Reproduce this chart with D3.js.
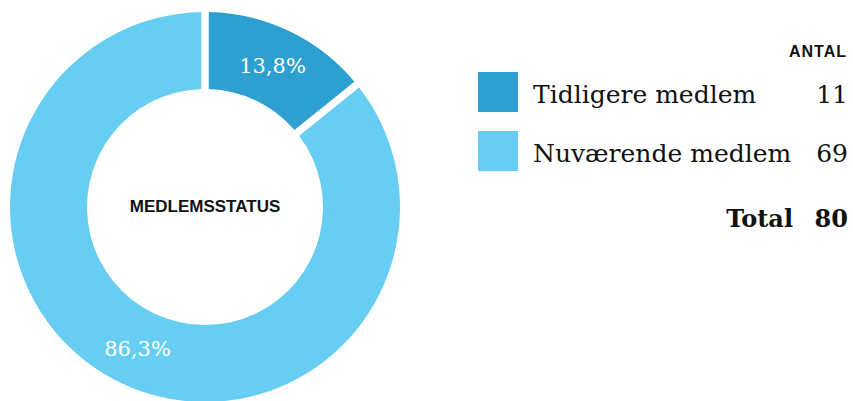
<!DOCTYPE html>
<html>
<head>
<meta charset="utf-8">
<script src="https://cdn.jsdelivr.net/npm/d3@7"></script>
<style>
  body { margin: 0; background: #fff; }
  svg { display: block; }
  .serif { font-family: "DejaVu Serif", serif; }
  .sans { font-family: "Liberation Sans", Arial, sans-serif; font-weight: bold; }
</style>
</head>
<body>
<div id="chart"></div>
<script>
// data
const categories = ["Tidligere medlem", "Nuværende medlem"];
const counts = [11, 69];
const percentLabels = ["13,8%", "86,3%"];
const colors = ["#2e9fd1", "#68cdf3"];
const centerTitle = "MEDLEMSSTATUS";
const columnTitle = "ANTAL";
const totalLabel = "Total";

const width = 853, height = 401;
const cx = 205, cy = 207, outerR = 195, innerR = 118;

const svg = d3.select("#chart").append("svg").attr("width", width).attr("height", height);
const g = svg.append("g").attr("transform", `translate(${cx},${cy})`);

const pie = d3.pie().sort(null).value(d => d)
    .padAngle(7.5 / outerR);
const arc = d3.arc().innerRadius(innerR).outerRadius(outerR).padRadius(outerR);
const labelArc = d3.arc().innerRadius((innerR + outerR) / 2).outerRadius((innerR + outerR) / 2);

const arcs = pie(counts);

g.selectAll("path.slice").data(arcs).enter().append("path")
    .attr("class", "slice")
    .attr("d", arc)
    .attr("fill", (d, i) => colors[i]);

g.selectAll("text.pct").data(arcs).enter().append("text")
    .attr("class", "pct serif")
    .attr("transform", d => `translate(${labelArc.centroid(d)})`)
    .attr("text-anchor", "middle").attr("dy", "0.35em")
    .style("font-size", "21px").style("fill", "#fff")
    .text((d, i) => percentLabels[i]);

g.append("text").attr("class", "sans")
    .attr("text-anchor", "middle").attr("y", 5)
    .style("font-size", "17px").style("fill", "#111")
    .text(centerTitle);

// legend table
const legend = svg.append("g");
const rightX = 848;
const rowY = d3.scalePoint().domain(categories).range([92, 151]);

legend.append("text").attr("class", "sans")
    .attr("x", rightX - 1).attr("y", 57).attr("text-anchor", "end")
    .style("font-size", "16px").style("letter-spacing", "1px").style("fill", "#111")
    .text(columnTitle);

const rows = legend.selectAll("g.row").data(categories).enter().append("g")
    .attr("class", "row")
    .attr("transform", d => `translate(0,${rowY(d)})`);

rows.append("rect").attr("x", 478).attr("y", -20).attr("width", 40).attr("height", 40)
    .attr("fill", (d, i) => colors[i]);

rows.append("text").attr("class", "serif")
    .attr("x", 533).attr("y", 11)
    .style("font-size", "25px").style("fill", "#111")
    .text(d => d);

rows.append("text").attr("class", "serif")
    .attr("x", rightX).attr("y", 11).attr("text-anchor", "end")
    .style("font-size", "25px").style("fill", "#111")
    .text((d, i) => counts[i]);

legend.append("text").attr("class", "serif")
    .attr("x", 793).attr("y", 227).attr("text-anchor", "end")
    .style("font-size", "24px").style("font-weight", "bold").style("fill", "#111")
    .text(totalLabel);

legend.append("text").attr("class", "serif")
    .attr("x", rightX).attr("y", 227).attr("text-anchor", "end")
    .style("font-size", "24px").style("font-weight", "bold").style("fill", "#111")
    .text(d3.sum(counts));
</script>
</body>
</html>
